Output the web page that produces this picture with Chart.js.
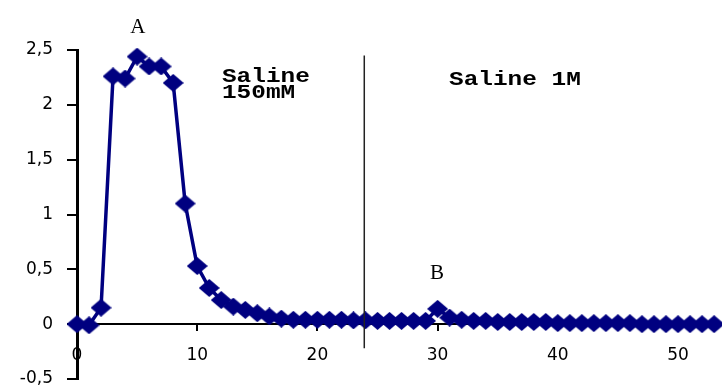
<!DOCTYPE html>
<html>
<head>
<meta charset="utf-8">
<script src="https://cdn.jsdelivr.net/npm/chart.js@4"></script>
<style>
  body { margin: 0; background: #fff; }
  #wrap { width: 722px; height: 389px; position: relative; }
</style>
</head>
<body>
<div id="wrap"><canvas id="elutionChart"></canvas></div>
<script>
// fractions (x) and absorbance (y)
const fractions = [0, 1, 2, 3, 4, 5, 6, 7, 8, 9,
    10, 11, 12, 13, 14, 15, 16, 17, 18, 19,
    20, 21, 22, 23, 24, 25, 26, 27, 28, 29,
    30, 31, 32, 33, 34, 35, 36, 37, 38, 39,
    40, 41, 42, 43, 44, 45, 46, 47, 48, 49,
    50, 51, 52, 53];
const absorbance = [0.00, -0.01, 0.15, 2.26, 2.24, 2.44, 2.35, 2.35, 2.20, 1.10,
    0.53, 0.33, 0.22, 0.16, 0.13, 0.10, 0.07, 0.05, 0.04, 0.04,
    0.04, 0.04, 0.04, 0.035, 0.035, 0.03, 0.03, 0.03, 0.03, 0.03,
    0.14, 0.06, 0.04, 0.03, 0.03, 0.02, 0.02, 0.02, 0.02, 0.02,
    0.01, 0.01, 0.01, 0.01, 0.01, 0.01, 0.01, 0.00, 0.00, 0.00,
    0.00, 0.00, 0.00, 0.00];
const xTicks = [0, 10, 20, 30, 40, 50];
const yTicks = [-0.5, 0, 0.5, 1, 1.5, 2, 2.5];

// wide flat diamond like the scanned figure
function diamond(w, h, color) {
    const c = document.createElement('canvas');
    c.width = w;
    c.height = h;
    const g = c.getContext('2d');
    g.fillStyle = color;
    g.beginPath();
    g.moveTo(w / 2, 0);
    g.lineTo(w, h / 2);
    g.lineTo(w / 2, h);
    g.lineTo(0, h / 2);
    g.closePath();
    g.fill();
    return c;
}

// labels A / B, the buffer notes and the divider line
const notes = {
    id: 'notes',
    afterDraw(chart) {
        const ctx = chart.ctx;
        const xs = chart.scales.x, ys = chart.scales.y;
        const px = v => xs.getPixelForValue(v);
        const py = v => ys.getPixelForValue(v);
        ctx.save();
        ctx.strokeStyle = '#222';
        ctx.lineWidth = 1.5;
        ctx.beginPath();
        ctx.moveTo(px(23.9), py(2.45));
        ctx.lineTo(px(23.9), py(-0.22));
        ctx.stroke();

        ctx.fillStyle = '#000';
        ctx.font = '21px "Liberation Serif"';
        ctx.textAlign = 'center';
        ctx.textBaseline = 'alphabetic';
        ctx.fillText('A', px(5.07), py(2.655));
        ctx.fillText('B', px(29.95), py(0.41));

        ctx.font = 'bold 20px "Liberation Mono"';
        ctx.textAlign = 'left';
        const stretched = (txt, x, y) => {
            ctx.save();
            ctx.translate(x, y);
            ctx.scale(1.22, 1);
            ctx.fillText(txt, 0, 0);
            ctx.restore();
        };
        stretched('Saline', px(12.06), py(2.21));
        stretched('150mM', px(12.06), py(2.065));
        stretched('Saline 1M', px(30.95), py(2.18));
        ctx.restore();
    }
};

const ctx = document.getElementById('elutionChart').getContext('2d');
const elutionChart = new Chart(ctx, {
    type: 'line',
    data: {
        datasets: [{
            data: fractions.map((f, i) => ({ x: f, y: absorbance[i] })),
            borderColor: '#000080',
            backgroundColor: '#000080',
            borderWidth: 3.5,
            tension: 0,
            pointStyle: diamond(21, 18, '#000080'),
            pointRadius: 9,
            clip: false
        }]
    },
    options: {
        responsive: true,
        maintainAspectRatio: false,
        animation: false,
        layout: { autoPadding: false, padding: { top: 50, bottom: 10, left: 0, right: 0 } },
        plugins: {
            legend: { display: false },
            tooltip: { enabled: false }
        },
        scales: {
            x: {
                type: 'linear',
                position: { y: 0 },
                min: 0,
                max: 53.66,
                afterFit: s => { s.height = 0; s.paddingLeft = 0; s.paddingRight = 0; },
                afterBuildTicks: s => { s.ticks = xTicks.map(v => ({ value: v })); },
                ticks: {
                    color: '#000',
                    font: { family: '"DejaVu Sans"', size: 17 },
                    padding: 15,
                    maxRotation: 0,
                    autoSkip: false
                },
                grid: { drawOnChartArea: false, tickLength: 6, color: '#000', lineWidth: 2 },
                border: { color: '#000', width: 2 }
            },
            y: {
                min: -0.5,
                max: 2.5,
                afterFit: s => { s.width = 77; s.paddingTop = 0; s.paddingBottom = 0; },
                afterBuildTicks: s => { s.ticks = yTicks.map(v => ({ value: v })); },
                ticks: {
                    color: '#000',
                    font: { family: '"DejaVu Sans"', size: 17 },
                    padding: 14,
                    callback: v => String(v).replace('.', ',')
                },
                grid: { drawOnChartArea: false, tickLength: 10, color: '#000', lineWidth: 2 },
                border: { color: '#000', width: 3 }
            }
        }
    },
    plugins: [notes]
});
</script>
</body>
</html>
